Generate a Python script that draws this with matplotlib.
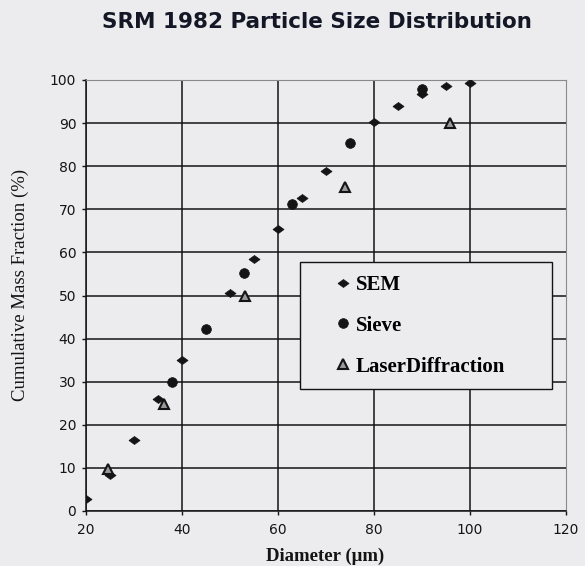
import matplotlib
matplotlib.use("Agg")
import matplotlib.pyplot as plt

# Cumulative mass fraction (%) versus particle diameter (um)
sem_diameter = [20, 25, 30, 35, 40, 50, 55, 60, 65, 70, 80, 85, 90, 95, 100]
sem_fraction = [2.7, 8.4, 16.5, 26.0, 35.0, 50.6, 58.5, 65.4, 72.6, 79.0, 90.2, 94.0, 96.8, 98.5, 99.3]

sieve_diameter = [38, 45, 53, 63, 75, 90]
sieve_fraction = [30.0, 42.3, 55.3, 71.3, 85.3, 97.8]

laser_diameter = [24.5, 36.3, 53.2, 73.9, 95.8]
laser_fraction = [9.8, 24.8, 49.8, 75.1, 90.1]

x_ticks = [20, 40, 60, 80, 100, 120]
y_ticks = [0, 10, 20, 30, 40, 50, 60, 70, 80, 90, 100]

bg = "#ececee"
ink = "#141414"

fig = plt.figure(figsize=(5.85, 5.66), dpi=100, facecolor=bg)
ax = fig.add_axes([86 / 585, 1 - 511 / 566, 480 / 585, 431 / 566], facecolor=bg)

diamond = [(-1.0, 0.0), (0.0, 0.72), (1.0, 0.0), (0.0, -0.72), (-1.0, 0.0)]

h_sem, = ax.plot(sem_diameter, sem_fraction, linestyle="none", marker=diamond,
                 markersize=8, color=ink, markeredgewidth=0.5, zorder=4, label="SEM")
h_sieve, = ax.plot(sieve_diameter, sieve_fraction, linestyle="none", marker="o",
                   markersize=7, color=ink, markeredgewidth=0.5, zorder=4, label="Sieve")
h_laser, = ax.plot(laser_diameter, laser_fraction, linestyle="none", marker="^",
                   markersize=7, markerfacecolor="#9a9a9a", markeredgecolor=ink,
                   markeredgewidth=1.5, zorder=5, label="LaserDiffraction")

ax.set_xlim(20, 120)
ax.set_ylim(0, 100)
ax.set_xticks(x_ticks)
ax.set_yticks(y_ticks)

ax.grid(True, color=ink, linewidth=1.1, zorder=1)
ax.set_axisbelow(True)
# the outer edges are drawn by the spines instead of the grid
ax.yaxis.get_gridlines()[-1].set_visible(False)
ax.xaxis.get_gridlines()[-1].set_visible(False)

for side in ("left", "bottom"):
    ax.spines[side].set_color(ink)
    ax.spines[side].set_linewidth(1.1)
for side in ("top", "right"):
    ax.spines[side].set_color("#8a8a8a")
    ax.spines[side].set_linewidth(0.8)

ax.tick_params(axis="both", direction="out", length=3, width=1, color=ink,
               labelsize=10, labelcolor=ink)
ax.tick_params(axis="y", pad=4)
ax.tick_params(axis="x", pad=6)
for lab in ax.get_xticklabels() + ax.get_yticklabels():
    lab.set_family("DejaVu Sans")

fig.text(317 / 585, 1 - 22 / 566, "SRM 1982 Particle Size Distribution",
         ha="center", va="center", fontsize=15.5, fontweight="bold",
         family="DejaVu Sans", color="#141826")

fig.text(20 / 585, 1 - 285 / 566, "Cumulative Mass Fraction (%)",
         rotation=90, ha="center", va="center", fontsize=13.5,
         family="Liberation Serif", color=ink)

fig.text(325 / 585, 1 - 556 / 566, "Diameter (\u03bcm)",
         ha="center", va="center", fontsize=13.5, fontweight="bold",
         family="Liberation Serif", color=ink)

leg = ax.legend(handles=[h_sem, h_sieve, h_laser],
                loc="upper left",
                bbox_to_anchor=((300 - 86) / 480, (511 - 262) / 431, (552 - 300) / 480, 0.0),
                mode="expand", borderaxespad=0,
                prop={"family": "Liberation Serif", "weight": "bold", "size": 15},
                handlelength=2.9, handletextpad=-0.83, borderpad=0.62,
                labelspacing=1.0, frameon=True, fancybox=False,
                facecolor=bg, edgecolor=ink, framealpha=1)
leg.get_frame().set_linewidth(1.0)
leg.set_zorder(6)

fig.savefig("out.png", dpi=100, facecolor=bg)
